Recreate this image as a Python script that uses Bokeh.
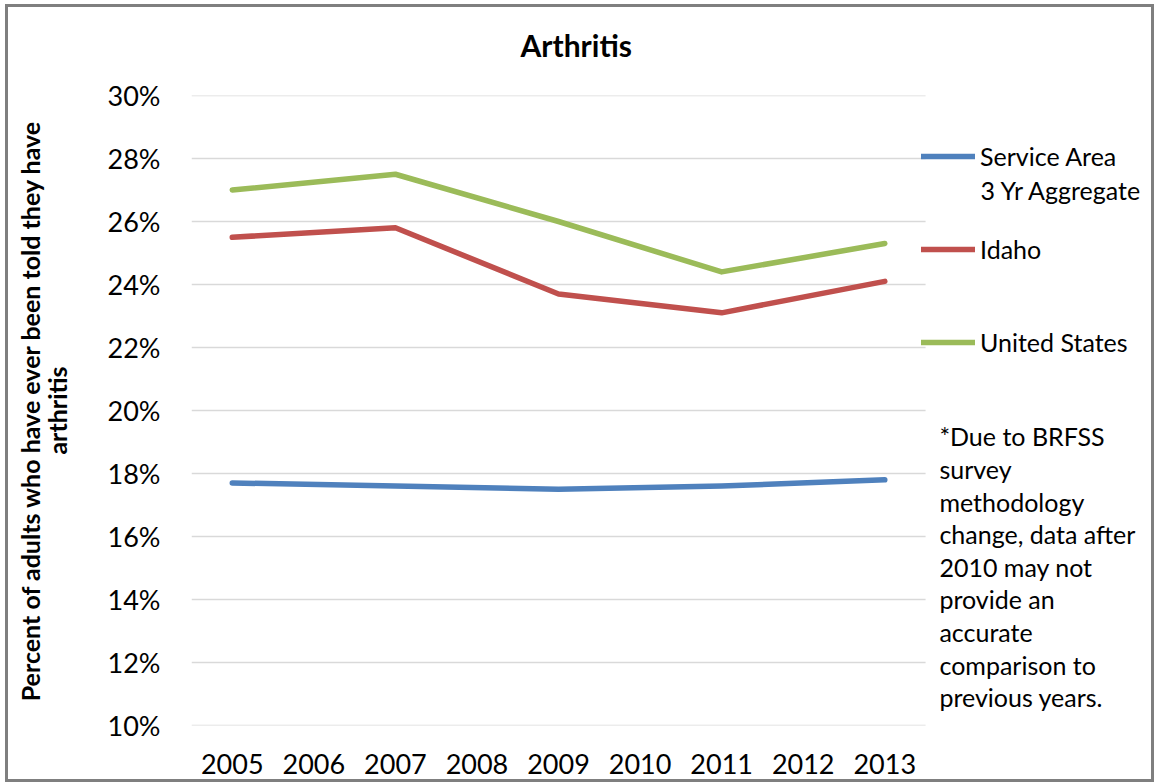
from bokeh.plotting import figure
from bokeh.models import Label, Legend, LegendItem, Range1d, FixedTicker, Title
from bokeh.embed import file_html
from bokeh.resources import INLINE

# ---- data ----
years = ["2005", "2006", "2007", "2008", "2009", "2010", "2011", "2012", "2013"]
line_years = ["2005", "2007", "2009", "2011", "2013"]
service_area = [17.7, 17.6, 17.5, 17.6, 17.8]
idaho = [25.5, 25.8, 23.7, 23.1, 24.1]
united_states = [27.0, 27.5, 26.0, 24.4, 25.3]
y_ticks = [10, 12, 14, 16, 18, 20, 22, 24, 26, 28, 30]
y_tick_labels = [f"{t}%" for t in y_ticks]
series_names = ["Service Area", "Idaho", "United States"]
colors = ["#4f81bd", "#c0504d", "#9bbb59"]
title_text = "Arthritis"
y_label_text = "Percent of adults who have ever been told they have\narthritis"
note_text = ("*Due to BRFSS\nsurvey\nmethodology\nchange, data after\n2010 may not\n"
             "provide an\naccurate\ncomparison to\nprevious years.")

FONT = "Lato"

year_pos = list(range(len(years)))
line_x = [years.index(y) for y in line_years]

p = figure(
    x_range=Range1d(-0.5, 11.27),
    y_range=Range1d(y_ticks[0], y_ticks[-1]),
    width=1143, height=772,
    min_border_left=183, min_border_right=6,
    min_border_top=88, min_border_bottom=60,
    output_backend="svg", toolbar_location=None,
)
p.styles = {"border": "3px solid #7f7f7f", "box-sizing": "content-box",
            "margin-left": "5px", "margin-top": "4px"}
p.outline_line_color = None
p.background_fill_color = "white"
p.border_fill_color = "white"

# titles: a small spacer next to the frame, then the chart title above it
p.title.text = ""
spacer = Title(text=" ", text_font=FONT, text_font_size="10px", standoff=19)
p.add_layout(spacer, "above")
main_title = Title(text=title_text, text_font=FONT, text_font_style="bold",
                   text_font_size="30px", text_color="black",
                   align="left", offset=329, standoff=0)
p.add_layout(main_title, "above")

# grid: horizontal lines across the category area only
p.xgrid.grid_line_color = None
p.ygrid.grid_line_color = None
p.segment(x0=[year_pos[0] - 0.5] * len(y_ticks), x1=[year_pos[-1] + 0.5] * len(y_ticks),
          y0=y_ticks, y1=y_ticks, line_color="#d9d9d9", line_width=1.5)

# axes
for ax in (p.xaxis[0], p.yaxis[0]):
    ax.axis_line_color = None
    ax.major_tick_line_color = None
    ax.minor_tick_line_color = None
    ax.major_tick_out = 0
    ax.major_tick_in = 0
    ax.minor_tick_out = 0
    ax.minor_tick_in = 0
    ax.major_label_text_font = FONT
    ax.major_label_text_font_size = "27px"
    ax.major_label_text_color = "black"
p.xaxis.ticker = FixedTicker(ticks=year_pos)
p.xaxis.major_label_overrides = {i: y for i, y in zip(year_pos, years)}
p.xaxis.major_label_standoff = 28
p.yaxis.ticker = FixedTicker(ticks=y_ticks)
p.yaxis.major_label_overrides = {t: l for t, l in zip(y_ticks, y_tick_labels)}
p.yaxis.major_label_standoff = 31
p.yaxis.axis_label = y_label_text
p.yaxis.axis_label_text_font = FONT
p.yaxis.axis_label_text_font_style = "bold"
p.yaxis.axis_label_text_font_size = "25px"
p.yaxis.axis_label_text_color = "black"
p.yaxis.axis_label_text_line_height = 0.9
p.yaxis.axis_label_standoff = 33

renderers = []
for vals, c in zip([service_area, idaho, united_states], colors):
    r = p.line(line_x, vals, line_color=c, line_width=5.5, line_cap="round", line_join="round")
    renderers.append(r)

legend = Legend(
    items=[LegendItem(label=n, renderers=[r]) for n, r in zip(series_names, renderers)],
    location=(730, 367),
    padding=0, margin=0, spacing=61,
    glyph_width=54, glyph_height=32, label_height=32,
    label_standoff=5,
    label_text_font=FONT, label_text_font_size="25px", label_text_color="black",
    border_line_alpha=0, background_fill_alpha=0,
)
p.add_layout(legend)

# second line of first legend label
p.add_layout(Label(x=9.174, y=26.99, text="3 Yr Aggregate", text_font=FONT,
                   text_font_size="25px", text_color="black",
                   text_baseline="middle", text_align="left"))

# note
p.add_layout(Label(x=8.67, y=15.04, text=note_text, text_font=FONT, text_font_size="25px",
                   text_color="black", text_baseline="middle", text_align="left",
                   text_line_height=1.087))

open("out.html", "w").write(file_html(p, INLINE))
